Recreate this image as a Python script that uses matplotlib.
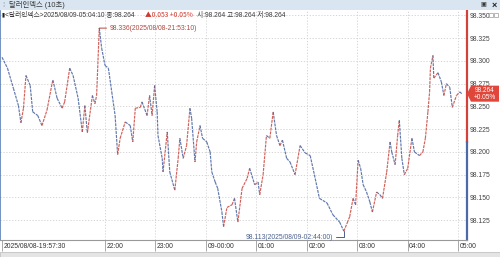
import pandas as pd
import matplotlib
matplotlib.use("Agg")
import matplotlib.pyplot as plt
import matplotlib.dates as mdates
import matplotlib.transforms as mtransforms
from matplotlib.collections import LineCollection
from matplotlib.patches import Rectangle, Polygon

plt.rcParams["font.family"] = ["Liberation Sans", "Noto Sans CJK KR", "DejaVu Sans"]

# price path (08/08 evening -> 08/09 morning)
times = ["19:57:30", "20:04", "20:11", "20:17", "20:20", "20:23", "20:26", "20:31", "20:34",
         "20:40", "20:45", "20:51", "20:57", "20:58", "21:03", "21:09", "21:12", "21:18",
         "21:22", "21:28", "21:33", "21:36", "21:39", "21:45", "21:48", "21:50", "21:53:10",
         "21:56", "22:00", "22:04", "22:08", "22:12", "22:15", "22:18", "22:24", "22:30",
         "22:33", "22:36", "22:42", "22:44", "22:50", "22:53", "22:56", "22:59", "23:02",
         "23:03", "23:08", "23:09", "23:14", "23:17", "23:23", "23:27", "23:29", "23:33",
         "23:37", "23:41", "23:43", "23:47", "23:49", "23:53", "23:56", "00:01", "00:05",
         "00:07", "00:11", "00:14", "00:19", "00:21", "00:25", "00:31", "00:34", "00:38",
         "00:43", "00:49", "00:52", "00:58", "01:02", "01:04", "01:08", "01:12", "01:16",
         "01:20", "01:24", "01:28", "01:31", "01:36", "01:40", "01:46", "01:52", "01:58",
         "02:04", "02:09", "02:15", "02:24", "02:31", "02:39", "02:44:00", "02:48", "02:51",
         "02:55", "02:58", "03:01", "03:04", "03:07", "03:11", "03:15", "03:18", "03:23",
         "03:27", "03:30", "03:35", "03:39", "03:41", "03:45", "03:48", "03:50", "03:53",
         "03:56", "04:00", "04:05", "04:08", "04:14", "04:18", "04:21", "04:24", "04:26",
         "04:27", "04:30", "04:31", "04:36", "04:40", "04:43", "04:46", "04:50", "04:53",
         "04:58", "05:02", "05:04:10"]
prices = [98.304, 98.292, 98.270, 98.251, 98.232, 98.248, 98.284, 98.273, 98.244,
          98.240, 98.229, 98.246, 98.275, 98.279, 98.259, 98.248, 98.255, 98.292,
          98.284, 98.259, 98.222, 98.251, 98.221, 98.262, 98.253, 98.262, 98.336,
          98.314, 98.295, 98.292, 98.266, 98.240, 98.197, 98.215, 98.233, 98.229,
          98.211, 98.248, 98.249, 98.255, 98.240, 98.262, 98.240, 98.273, 98.244,
          98.218, 98.193, 98.178, 98.222, 98.178, 98.158, 98.193, 98.215, 98.193,
          98.207, 98.248, 98.237, 98.189, 98.211, 98.229, 98.215, 98.211, 98.200,
          98.178, 98.167, 98.160, 98.134, 98.118, 98.139, 98.142, 98.149, 98.123,
          98.160, 98.171, 98.182, 98.164, 98.167, 98.153, 98.175, 98.218, 98.215,
          98.244, 98.218, 98.207, 98.213, 98.193, 98.189, 98.175, 98.207, 98.199,
          98.196, 98.175, 98.149, 98.144, 98.131, 98.123, 98.113, 98.122, 98.129,
          98.149, 98.142, 98.191, 98.182, 98.164, 98.156, 98.145, 98.134, 98.156,
          98.153, 98.149, 98.178, 98.211, 98.200, 98.186, 98.218, 98.235, 98.193,
          98.175, 98.182, 98.215, 98.200, 98.196, 98.200, 98.215, 98.244, 98.266,
          98.292, 98.306, 98.281, 98.287, 98.277, 98.262, 98.275, 98.271, 98.249,
          98.262, 98.266, 98.264]

y_ticks = [98.125, 98.150, 98.175, 98.200, 98.225, 98.250, 98.275, 98.300, 98.325, 98.350]
hour_ticks = ["22:00", "23:00", "00:00", "01:00", "02:00", "03:00", "04:00", "05:00"]
hour_labels = ["22:00", "23:00", "09-00:00", "01:00", "02:00", "03:00", "04:00", "05:00"]
first_label = "2025/08/08-19:57:30"

last_price = 98.264
change = 0.053
change_pct = "+0.05%"
prev_close = last_price - change
high_price, high_time = 98.336, "21:53:10"
low_price, low_time = 98.113, "02:44:00"

RED = "#c8463e"
BLUE = "#45619f"
TXT = "#3a3a3a"


def to_dt(t):
    if len(t) == 5:
        t = t + ":00"
    day = "2025-08-08" if int(t[:2]) >= 12 else "2025-08-09"
    return pd.Timestamp(day + " " + t)


x = mdates.date2num([to_dt(t) for t in times])
y = prices

W, H = 500, 257
fig = plt.figure(figsize=(W / 100, H / 100), dpi=100)
fig.patch.set_facecolor("white")

# plot area: x 0..467 px, y 11..240 px
ax = fig.add_axes([0 / W, 1 - 240 / H, 467 / W, (240 - 11) / H])
ax.set_facecolor("white")
ax.set_xlim(mdates.date2num(to_dt("19:55:06")), mdates.date2num(to_dt("05:10:30")))
ax.set_ylim(98.1033, 98.3548)

# price line, red when rising, blue when falling
segs = [[(x[i], y[i]), (x[i + 1], y[i + 1])] for i in range(len(x) - 1)]
cols = [RED if y[i + 1] >= y[i] else BLUE for i in range(len(x) - 1)]
lc = LineCollection(segs, colors=cols, linewidths=0.85, linestyles=(0, (2.5, 0.8)), alpha=0.85)
ax.add_collection(lc)

# grid
for v in y_ticks:
    ax.axhline(v, color="#cfcfcf", lw=0.6, ls=(0, (1.5, 2)), zorder=0)
hour_x = [mdates.date2num(to_dt(h)) for h in hour_ticks]
for hx in hour_x:
    ax.axvline(hx, color="#cfcfcf", lw=0.6, ls=(0, (1.5, 2)), zorder=0)

# spines
for s in ["top", "right"]:
    ax.spines[s].set_visible(False)
ax.spines["bottom"].set_color("#9a9a9a")
ax.spines["bottom"].set_linewidth(0.8)
ax.spines["left"].set_color("#5b7fb5")
ax.spines["left"].set_linewidth(1.2)
xr = ax.get_xlim()[1]
ax.plot([xr, xr], [prev_close, ax.get_ylim()[1]], color="#d2413a", lw=1.6, clip_on=False)
ax.plot([xr, xr], [ax.get_ylim()[0], prev_close], color="#4a6aa8", lw=1.6, clip_on=False)

# y axis on the right
ax.yaxis.tick_right()
ax.set_yticks(y_ticks, [f"{v:.3f}" for v in y_ticks])
ax.tick_params(axis="y", length=0, pad=2.2, labelsize=4.9, labelcolor="#444444")

# x axis labels, left aligned next to a tick
xt = [mdates.date2num(to_dt("19:57:30"))] + hour_x
ax.set_xticks(xt, [first_label] + hour_labels)
ax.tick_params(axis="x", length=8, width=0.6, color="#9a9a9a", pad=-5.6,
               labelsize=4.9, labelcolor="#333333")
off = mtransforms.ScaledTranslation(1.5 / 100, 0, fig.dpi_scale_trans)
for lbl in ax.get_xticklabels():
    lbl.set_horizontalalignment("left")
    lbl.set_transform(lbl.get_transform() + off)

# high / low markers
ax.annotate(f"{high_price:.3f}(2025/08/08-{high_time})",
            xy=(mdates.date2num(to_dt(high_time)), high_price),
            xytext=(10, 0), textcoords="offset pixels", va="center", ha="left",
            fontsize=4.9, color="#b0483f",
            arrowprops=dict(arrowstyle="-", color="#b0483f", lw=0.7, shrinkA=0, shrinkB=0))
ax.annotate(f"{low_price:.3f}(2025/08/09-{low_time})",
            xy=(mdates.date2num(to_dt(low_time)), low_price),
            xytext=(-11, -6), textcoords="offset pixels", va="center", ha="right",
            fontsize=4.9, color="#4a6290",
            arrowprops=dict(arrowstyle="-", color="#4a6290", lw=0.7, shrinkA=0, shrinkB=0,
                            connectionstyle="angle,angleA=0,angleB=90,rad=0"))

# last price tag on the axis
ly = ax.transData.transform((xr, last_price))[1] / H
x0, x1, x2 = 467 / W, 471 / W, 499 / W
hh = 8 / H
tag = Polygon([(x0, ly), (x1, ly + hh), (x2, ly + hh), (x2, ly - hh), (x1, ly - hh)],
              closed=True, transform=fig.transFigure, facecolor="#e0463a",
              edgecolor="none", zorder=5)
fig.patches.append(tag)
fig.text(485 / W, ly + 3.5 / H, f"{last_price:.3f}", color="white", fontsize=4.7,
         ha="center", va="center", zorder=6)
fig.text(485 / W, ly - 4 / H, change_pct, color="white", fontsize=4.7,
         ha="center", va="center", zorder=6)

# window title bar
fig.patches.append(Rectangle((0, 1 - 10 / H), 1, 10 / H, transform=fig.transFigure,
                             facecolor="#d9e5f1", edgecolor="none", zorder=0))
fig.text(9 / W, 1 - 5 / H, "달러인덱스 (10초)", fontsize=5.3, color=TXT, va="center", ha="left")
fig.text(2 / W, 1 - 5 / H, "⁞", fontsize=5, color="#8a9ab0", va="center", ha="left",
         family="DejaVu Sans")
fig.text(483 / W, 1 - 5 / H, "▣", fontsize=4.5, color="#333333", va="center", ha="center",
         family="DejaVu Sans")
fig.text(494 / W, 1 - 5 / H, "×", fontsize=6.5, color="#222222", va="center", ha="center",
         fontweight="bold")
# small panel buttons next to the top price label (drawn as boxes)
for bx in (489, 494):
    fig.patches.append(Rectangle((bx / W, 1 - 17 / H), 4 / W, 4 / H, transform=fig.transFigure,
                                 facecolor="white", edgecolor="#9a9a9a", lw=0.5, zorder=6))

# info line
iy = 1 - 15 / H
fig.text(2 / W, iy, "▮", fontsize=4, color="#222222", va="center", ha="left", family="DejaVu Sans")
fig.text(5 / W, iy, "<달러인덱스>2025/08/09-05:04:10 종:98.264", fontsize=4.8, color=TXT,
         va="center", ha="left")
fig.text(145 / W, iy, f"▲{change:.3f} {change_pct}", fontsize=4.8, color="#d0392e",
         va="center", ha="left", family=["Noto Sans CJK KR", "DejaVu Sans"])
fig.text(197 / W, iy, "시:98.264 고:98.264 저:98.264", fontsize=4.8, color=TXT,
         va="center", ha="left")

# scroll strip at the bottom
fig.patches.append(Rectangle((0, 0), 1, 5 / H, transform=fig.transFigure,
                             facecolor="#e4e4e4", edgecolor="#b8b8b8", lw=0.5, zorder=0))

fig.savefig("out.png", dpi=100)
